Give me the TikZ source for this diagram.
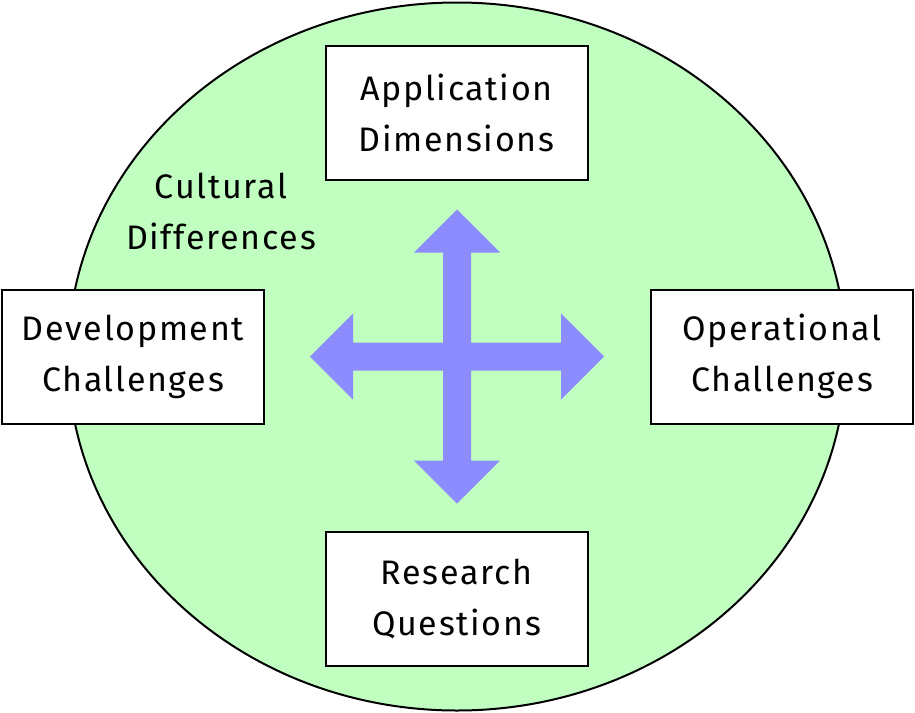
\documentclass[tikz,border=0pt]{standalone}
\usepackage{fontspec}
\setmainfont[LetterSpace=5]{Fira Sans}
\definecolor{ringgreen}{HTML}{C0FFC0}
\definecolor{crossblue}{HTML}{8C8CFF}
\tikzset{
  topic/.style={draw, line width=2pt, fill=white, minimum width=262pt,
    minimum height=134pt, align=center, font=\fontsize{34}{51}\selectfont},
  note/.style={align=center, font=\fontsize{34}{51}\selectfont}
}

\begin{document}
\begin{tikzpicture}[x=1pt, y=-1pt]
    \useasboundingbox (0,0) rectangle (915,712);
    \coordinate (O) at (457,356.5);
    \pgfmathsetmacro{\tip}{147}   % tip distance from centre
    \pgfmathsetmacro{\base}{104}  % where the head starts
    \pgfmathsetmacro{\shaft}{14}  % half width of shaft
    \pgfmathsetmacro{\head}{43}   % half width of head
    % green disc
    \draw[line width=2pt, fill=ringgreen] (O) ellipse [x radius=389, y radius=354];
    % four arms of the cross
    \foreach \a in {0,90,180,270}
        \fill[crossblue, shift={(O)}, rotate=\a]
            (0,-\shaft) -- (\base,-\shaft) -- (\base,-\head) -- (\tip,0)
            -- (\base,\head) -- (\base,\shaft) -- (0,\shaft) -- cycle;
    % boxes round the disc
    \node[topic] (app) at (456.5,113) {Application\\Dimensions};
    \node[topic] (dev) at (133,356.5) {Development\\Challenges};
    \node[topic] (ops) at (782,356.5) {Operational\\Challenges};
    \node[topic] (res) at (456.5,599) {Research\\Questions};
    \node[note] (culture) at (221,211) {Cultural\\Differences};
\end{tikzpicture}
\end{document}
